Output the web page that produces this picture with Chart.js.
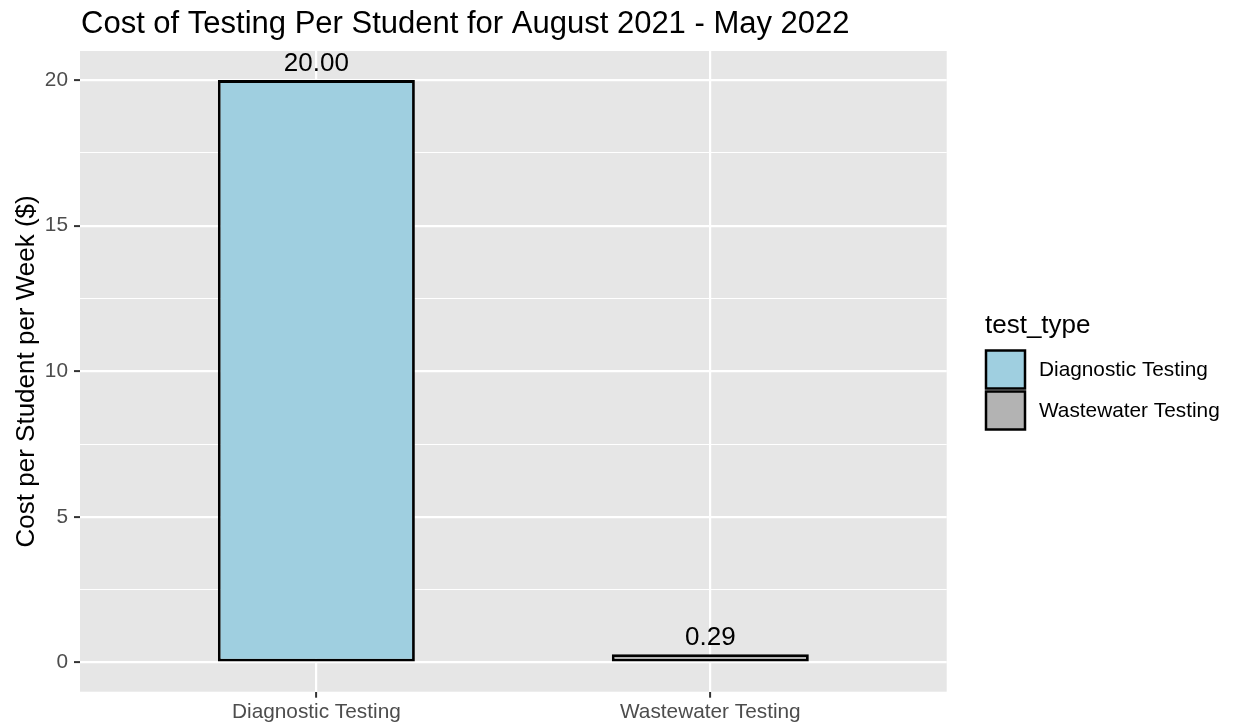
<!DOCTYPE html>
<html>
<head>
<meta charset="utf-8">
<script src="https://cdn.jsdelivr.net/npm/chart.js@4"></script>
<style>
  html, body { margin: 0; padding: 0; background: #ffffff; }
  #wrap { width: 1233px; height: 727px; }
</style>
</head>
<body>
<div id="wrap"><canvas id="c" width="1233" height="727"></canvas></div>
<script>
// ---- data ----
const categories = ['Diagnostic Testing', 'Wastewater Testing'];
const costValues = [20.00, 0.29];
const valueLabels = ['20.00', '0.29'];
const fillColors = ['#9FCFE0', '#B3B3B3'];
const yTickValues = [0, 2.5, 5, 7.5, 10, 12.5, 15, 17.5, 20];
const chartTitle = 'Cost of Testing Per Student for August 2021 - May 2022';
const yAxisTitle = 'Cost per Student per Week ($)';
const legendTitle = 'test_type';

const FONT = '"Liberation Sans", Arial, sans-serif';

const decorPlugin = {
  id: 'decor',
  beforeDraw(chart) {
    const { ctx, chartArea: a } = chart;
    ctx.save();
    ctx.fillStyle = '#E6E6E6';
    ctx.fillRect(a.left, a.top, a.right - a.left, a.bottom - a.top);
    ctx.restore();
  },
  afterDraw(chart) {
    const { ctx, chartArea: a } = chart;
    ctx.save();
    // title
    ctx.fillStyle = '#000000';
    ctx.font = '31px ' + FONT;
    ctx.textAlign = 'left';
    ctx.textBaseline = 'alphabetic';
    ctx.fillText(chartTitle, 81, 32.5);
    // y axis title
    ctx.save();
    ctx.translate(34, (a.top + a.bottom) / 2);
    ctx.rotate(-Math.PI / 2);
    ctx.font = '26px ' + FONT;
    ctx.textAlign = 'center';
    ctx.textBaseline = 'alphabetic';
    ctx.fillText(yAxisTitle, 0, 0);
    ctx.restore();
    // value labels
    const meta = chart.getDatasetMeta(0);
    ctx.font = '26px ' + FONT;
    ctx.textAlign = 'center';
    ctx.textBaseline = 'alphabetic';
    meta.data.forEach((bar, i) => {
      ctx.fillText(valueLabels[i], bar.x, bar.y - 9);
    });
    // legend
    ctx.font = '26px ' + FONT;
    ctx.textAlign = 'left';
    ctx.fillText(legendTitle, 985, 333);
    ctx.font = '20.8px ' + FONT;
    ctx.textBaseline = 'middle';
    categories.forEach((cat, i) => {
      const y = 350.5 + i * 41;
      ctx.fillStyle = fillColors[i];
      ctx.fillRect(986, y, 39, 38);
      ctx.lineWidth = 2.5;
      ctx.strokeStyle = '#000000';
      ctx.strokeRect(986, y, 39, 38);
      ctx.fillStyle = '#000000';
      ctx.fillText(cat, 1039, y + 20);
    });
    ctx.restore();
  }
};

new Chart(document.getElementById('c'), {
  type: 'bar',
  data: {
    datasets: [{
      data: costValues.map((v, i) => ({ x: i + 1, y: v })),
      backgroundColor: fillColors,
      borderColor: '#000000',
      borderWidth: 2.8,
      borderSkipped: false,
      barPercentage: 0.5,
      categoryPercentage: 1.0
    }]
  },
  options: {
    responsive: false,
    animation: false,
    layout: { padding: { left: 0, top: 51, right: 286.3, bottom: 0 } },
    plugins: { legend: { display: false }, title: { display: false }, tooltip: { enabled: false } },
    scales: {
      x: {
        type: 'linear',
        offset: false,
        min: 0.4,
        max: 2.6,
        afterBuildTicks(scale) { scale.ticks = [1, 2].map(v => ({ value: v })); },
        afterFit(scale) { scale.height = 35.3; },
        border: { display: false },
        grid: {
          offset: false,
          color: '#FFFFFF',
          lineWidth: 2.2,
          tickColor: '#333333',
          tickLength: 6,
          tickWidth: 2
        },
        ticks: {
          autoSkip: false,
          maxRotation: 0,
          padding: 2,
          color: '#4D4D4D',
          font: { family: FONT, size: 20.8 },
          callback: (v) => categories[Math.round(v) - 1] || ''
        }
      },
      y: {
        min: -1,
        max: 21,
        afterBuildTicks(scale) { scale.ticks = yTickValues.map(v => ({ value: v })); },
        afterFit(scale) { scale.width = 80; },
        border: { display: false },
        grid: {
          color: '#FFFFFF',
          lineWidth: (c) => (c.tick && c.tick.value % 5 === 0) ? 2.2 : 1.1,
          tickColor: (c) => (c.tick && c.tick.value % 5 === 0) ? '#333333' : 'rgba(0,0,0,0)',
          tickLength: 6,
          tickWidth: 2
        },
        ticks: {
          autoSkip: false,
          padding: 6,
          color: '#4D4D4D',
          font: { family: FONT, size: 20.8 },
          callback: (v) => (v % 5 === 0 ? String(v) : '')
        }
      }
    }
  },
  plugins: [decorPlugin]
});
</script>
</body>
</html>
